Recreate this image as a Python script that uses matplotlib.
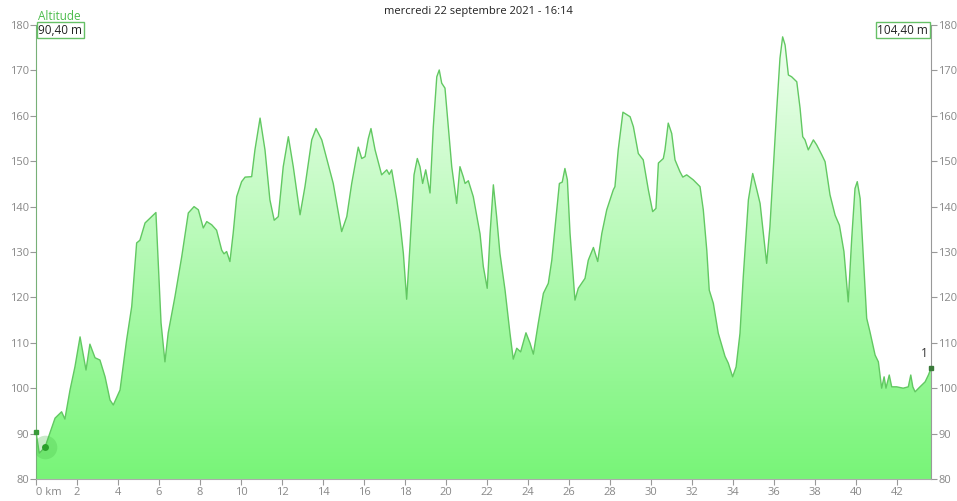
import numpy as np
import matplotlib
matplotlib.use("Agg")
import matplotlib.pyplot as plt
from matplotlib.patches import Polygon

plt.rcParams['font.family'] = ['Open Sans', 'DejaVu Sans']

title = "mercredi 22 septembre 2021 - 16:14"
start_label = "90,40 m"
end_label = "104,40 m"

km = [0.00, 0.16, 0.44, 0.93, 1.25, 1.41, 1.66, 1.90, 2.15, 2.44, 2.63, 2.88, 3.12, 3.37, 3.61, 3.77,
      4.10, 4.42, 4.67, 4.91, 5.07, 5.32, 5.85, 6.10, 6.29, 6.45, 6.78, 7.11, 7.43, 7.71, 7.92, 8.16,
      8.33, 8.57, 8.81, 9.06, 9.17, 9.30, 9.46, 9.62, 9.79, 10.03, 10.20, 10.52, 10.68, 10.93, 11.17,
      11.41, 11.62, 11.82, 12.06, 12.31, 12.55, 12.88, 13.12, 13.45, 13.66, 13.94, 14.18, 14.50, 14.91,
      15.16, 15.40, 15.72, 15.89, 16.05, 16.21, 16.34, 16.54, 16.86, 17.11, 17.23, 17.35, 17.60, 17.76,
      17.92, 18.08, 18.24, 18.44, 18.60, 18.73, 18.86, 19.01, 19.22, 19.38, 19.55, 19.67, 19.79, 19.95,
      20.11, 20.28, 20.52, 20.68, 20.84, 20.93, 21.09, 21.33, 21.66, 21.82, 22.01, 22.15, 22.31, 22.47,
      22.63, 22.88, 23.12, 23.28, 23.45, 23.64, 23.90, 24.10, 24.26, 24.50, 24.75, 24.99, 25.16, 25.32,
      25.53, 25.67, 25.80, 25.92, 26.05, 26.29, 26.45, 26.78, 26.94, 27.19, 27.40, 27.60, 27.84, 28.16,
      28.24, 28.40, 28.63, 28.98, 29.14, 29.38, 29.62, 29.87, 30.08, 30.24, 30.36, 30.60, 30.68, 30.84,
      31.01, 31.17, 31.41, 31.55, 31.74, 32.06, 32.39, 32.55, 32.72, 32.84, 33.04, 33.28, 33.61, 33.77,
      33.98, 34.15, 34.34, 34.50, 34.75, 34.96, 35.16, 35.32, 35.48, 35.64, 35.80, 35.97, 36.13, 36.29,
      36.42, 36.54, 36.70, 36.86, 37.11, 37.27, 37.40, 37.51, 37.67, 37.92, 38.08, 38.33, 38.49, 38.73,
      38.98, 39.19, 39.30, 39.41, 39.62, 39.79, 39.95, 40.06, 40.20, 40.36, 40.52, 40.68, 40.93, 41.09,
      41.25, 41.37, 41.46, 41.62, 41.74, 41.98, 42.30, 42.55, 42.67, 42.77, 42.88, 43.12, 43.37, 43.53,
      43.66]
alt = [90.4, 85.7, 87.0, 93.4, 94.8, 93.2, 99.6, 104.7, 111.3, 104.0, 109.7, 106.7, 106.2, 102.5, 97.4, 96.3,
       99.6, 110.6, 118.0, 132.0, 132.6, 136.4, 138.7, 114.4, 105.8, 112.2, 120.2, 129.0, 138.6, 140.0, 139.3, 135.3,
       136.7, 136.0, 134.8, 130.4, 129.6, 130.1, 127.9, 134.2, 142.2, 145.5, 146.5, 146.6, 152.5, 159.5, 152.5,
       141.5, 137.0, 137.8, 148.8, 155.4, 148.8, 138.2, 144.4, 154.7, 157.2, 154.7, 150.6, 145.1, 134.5,
       137.8, 145.1, 153.1, 150.6, 151.0, 155.0, 157.2, 152.5, 147.0, 148.1, 147.1, 148.1, 141.5, 136.3,
       129.7, 119.6, 131.2, 147.0, 150.6, 148.8, 145.1, 148.1, 143.0, 157.6, 168.6, 170.1, 167.2, 166.1,
       157.6, 148.8, 140.7, 148.8, 146.6, 145.1, 145.7, 142.2, 134.0, 126.8, 122.0, 134.1, 144.8, 137.8,
       129.7, 121.6, 112.1, 106.4, 108.8, 108.0, 112.2, 109.9, 107.5, 114.3, 120.9, 123.1, 128.2, 135.6,
       145.1, 145.4, 148.4, 145.9, 134.1, 119.4, 122.0, 124.2, 128.2, 131.0, 127.9, 134.1, 139.3, 143.7,
       144.4, 152.5, 160.8, 159.8, 157.6, 151.7, 150.3, 143.7, 138.9, 139.6, 149.6, 150.6, 152.5, 158.4,
       156.1, 150.3, 147.7, 146.5, 147.0, 145.9, 144.4, 139.3, 130.4, 121.6, 118.7, 112.1, 107.0, 105.5,
       102.5, 104.7, 112.1, 124.6, 141.5, 147.3, 143.7, 140.7, 134.1, 127.5, 135.6, 148.8, 161.3, 172.7,
       177.4, 175.6, 169.0, 168.6, 167.5, 161.7, 155.4, 154.7, 152.5, 154.7, 153.6, 151.4, 149.9, 142.6,
       138.1, 135.9, 133.0, 130.1, 119.0, 133.0, 144.0, 145.5, 141.8, 128.6, 115.4, 112.4, 107.3, 105.8,
       100.0, 102.5, 100.0, 102.9, 100.3, 100.3, 100.0, 100.3, 102.9, 100.3, 99.2, 100.3, 101.4, 102.9,
       104.4]

cursor_km, cursor_alt = 0.44, 87.0
y_ticks = [80, 90, 100, 110, 120, 130, 140, 150, 160, 170, 180]
x_ticks = list(range(0, 43, 2))
x_labels = ["0 km"] + [str(t) for t in x_ticks[1:]]

km = np.array(km)
alt = np.array(alt)
x_max = 43.66

fig = plt.figure(figsize=(9.57, 5.01), dpi=100)
ax = fig.add_axes([0.0376, 0.044, 0.9353, 0.906])
ax.set_xlim(0, x_max)
ax.set_ylim(80, 180)

# gradient fill clipped to the profile
grad = np.linspace(0, 1, 256).reshape(-1, 1)
top_c = np.array([0.95, 1.0, 0.95])
bot_c = np.array([0.47, 0.96, 0.47])
img = top_c * (1 - grad[..., None]) + bot_c * grad[..., None]
im = ax.imshow(img, extent=[0, x_max, 80, 180], aspect='auto', origin='upper', zorder=1)
poly = Polygon(np.column_stack([np.r_[km, km[-1], km[0]], np.r_[alt, 80, 80]]),
               closed=True, facecolor='none', edgecolor='none')
ax.add_patch(poly)
im.set_clip_path(poly)
ax.plot(km, alt, color='#62c862', lw=1.0, zorder=3)

# cursor marker
ax.plot(cursor_km, cursor_alt, 'o', ms=17, color='#4cc04c', alpha=0.3, zorder=4, mec='none')
ax.plot(cursor_km, cursor_alt, 'o', ms=5, color='#2ca02c', zorder=5, mec='none')
ax.plot(km[0], alt[0], 's', ms=3, color='#3a9a3a', zorder=5, clip_on=False)
ax.plot(km[-1], alt[-1], 's', ms=3, color='#3a7a3a', zorder=5, clip_on=False)
ax.text(km[-1] - 0.15, alt[-1] + 1.8, "1", fontsize=8.5, color='#333333', ha='right', va='bottom')

ax.set_xticks(x_ticks)
ax.set_xticklabels(x_labels)
ax.set_yticks(y_ticks)
ax.tick_params(axis='both', colors='#999999', labelcolor='#888888', labelsize=8, length=4)
ax.tick_params(axis='y', which='both', left=True, right=True, labelleft=True, labelright=True, pad=1)
ax.tick_params(axis='x', pad=2)
first = ax.get_xticklabels()[0]
first.set_horizontalalignment('left')

ax.spines['top'].set_visible(False)
ax.spines['left'].set_color('#77b077')
ax.spines['right'].set_color('#999999')
ax.spines['bottom'].set_color('#aaaaaa')

fig.text(0.5, 0.978, title, ha='center', va='center', fontsize=8, color='#222222')
fig.text(0.04, 0.968, "Altitude", ha='left', va='center', fontsize=8.5, color='#4cbc4c')
box = dict(boxstyle='square,pad=0.15', fc='white', ec='#66c066', lw=1)
fig.text(0.040, 0.940, start_label, ha='left', va='center', fontsize=8.5, color='#222222', bbox=box)
fig.text(0.970, 0.940, end_label, ha='right', va='center', fontsize=8.5, color='#222222', bbox=box)

plt.savefig("out.png", dpi=100)
